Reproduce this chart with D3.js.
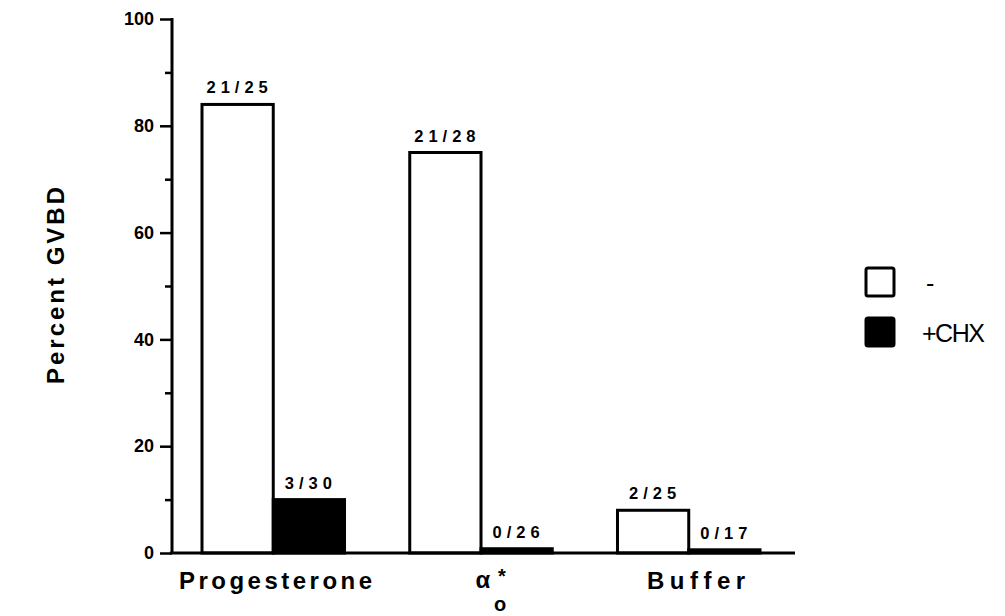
<!DOCTYPE html>
<html><head><meta charset="utf-8">
<script src="https://cdn.jsdelivr.net/npm/d3@7"></script>
<style>
body{margin:0;background:#fff;}
text{font-family:"Liberation Sans",Arial,Helvetica,sans-serif;fill:#000;}
</style></head>
<body><svg id="c" width="1005" height="616"></svg>
<script>
const categories = ["Progesterone", "alpha", "Buffer"];
const seriesNames = ["-", "+CHX"];
const valuesMinus = [84, 75, 8];
const valuesCHX = [10, 0.8, 0.6];
const labelsMinus = ["21/25", "21/28", "2/25"];
const labelsCHX = ["3/30", "0/26", "0/17"];
const majorTicks = [0, 20, 40, 60, 80, 100];
const minorTicks = [10, 30, 50, 70, 90];

const svg = d3.select("#c");
const y = d3.scaleLinear().domain([0, 100]).range([553, 19]);
const x0 = d3.scaleBand().domain(categories).range([202, 760]).paddingInner(0.314).paddingOuter(0);
const x1 = d3.scaleBand().domain(seriesNames).range([0, x0.bandwidth()]).padding(0);

const axisX = 172;
const gy = svg.append("g").attr("transform", `translate(${axisX},0)`)
  .call(d3.axisLeft(y).tickValues(majorTicks).tickSize(12).tickPadding(6));
gy.select(".domain").remove();
gy.selectAll(".tick line").attr("stroke", "#000").attr("stroke-width", 2.5);
gy.selectAll(".tick text").attr("font-size", 18).attr("font-weight", "bold").attr("fill", "#000")
  .attr("font-family", "'Liberation Sans',Arial,sans-serif");
const gm = svg.append("g").attr("transform", `translate(${axisX},0)`)
  .call(d3.axisLeft(y).tickValues(minorTicks).tickSize(7).tickFormat(""));
gm.select(".domain").remove();
gm.selectAll(".tick line").attr("stroke", "#000").attr("stroke-width", 2.5);
svg.append("line").attr("x1", axisX).attr("x2", axisX).attr("y1", y(100) - 1).attr("y2", y(0) + 1)
  .attr("stroke", "#000").attr("stroke-width", 3);

const groups = svg.append("g").selectAll("g").data(categories).join("g")
  .attr("transform", d => `translate(${x0(d)},0)`);
const rows = categories.map((c, i) => [
  {s: "-", v: valuesMinus[i], l: labelsMinus[i]},
  {s: "+CHX", v: valuesCHX[i], l: labelsCHX[i]}
]);
groups.each(function(c, i) {
  const g = d3.select(this);
  g.selectAll("rect").data(rows[i]).join("rect")
    .attr("x", d => x1(d.s)).attr("width", x1.bandwidth())
    .attr("y", d => y(d.v)).attr("height", d => y(0) - y(d.v))
    .attr("fill", d => d.s === "-" ? "#fff" : "#000")
    .attr("stroke", "#000").attr("stroke-width", 3);
  g.selectAll("text").data(rows[i]).join("text")
    .attr("x", d => x1(d.s) + x1.bandwidth() / 2 + 2)
    .attr("y", d => y(d.v) - 11)
    .attr("text-anchor", "middle").attr("font-size", 16.5).attr("font-weight", "bold")
    .attr("letter-spacing", 5)
    .text(d => d.l);
});

svg.append("line").attr("x1", axisX - 2).attr("x2", 795).attr("y1", y(0)).attr("y2", y(0))
  .attr("stroke", "#000").attr("stroke-width", 3);

const cx = c => x0(c) + x0.bandwidth() / 2;
svg.append("text").attr("x", cx("Progesterone") + 4).attr("y", 589).attr("text-anchor", "middle")
  .attr("font-size", 24).attr("font-weight", "bold").attr("letter-spacing", 3.5).text("Progesterone");
svg.append("text").attr("x", cx("Buffer") + 10).attr("y", 589).attr("text-anchor", "middle")
  .attr("font-size", 24).attr("font-weight", "bold").attr("letter-spacing", 5.5).text("Buffer");
const ax = cx("alpha");
svg.append("text").attr("x", ax + 2).attr("y", 588).attr("text-anchor", "middle")
  .attr("font-size", 24).attr("font-weight", "bold").text("α");
svg.append("text").attr("x", ax + 21).attr("y", 583).attr("text-anchor", "middle")
  .attr("font-size", 20).attr("font-weight", "bold").text("*");
svg.append("text").attr("x", ax + 19).attr("y", 611).attr("text-anchor", "middle")
  .attr("font-size", 20).attr("font-weight", "bold").text("o");

svg.append("text").attr("transform", "translate(64,284) rotate(-90)")
  .attr("text-anchor", "middle").attr("font-size", 24).attr("font-weight", "bold")
  .attr("letter-spacing", 3).text("Percent  GVBD");

const leg = svg.append("g").selectAll("g").data(seriesNames).join("g")
  .attr("transform", (d, i) => `translate(866,${268 + i * 50})`);
leg.append("rect").attr("width", 28).attr("height", 28).attr("rx", 2)
  .attr("fill", (d, i) => i === 0 ? "#fff" : "#000").attr("stroke", "#000").attr("stroke-width", 3);
leg.append("text").attr("x", (d, i) => i === 0 ? 60 : 56).attr("y", 24)
  .attr("font-size", 25).attr("letter-spacing", -1.5).text(d => d);
</script></body></html>
